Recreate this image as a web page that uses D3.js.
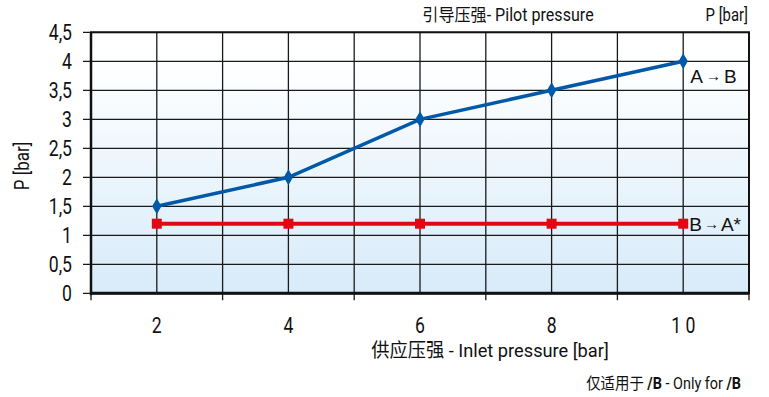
<!DOCTYPE html>
<html>
<head>
<meta charset="utf-8">
<script src="https://cdn.jsdelivr.net/npm/d3@7"></script>
<style>
  body { margin: 0; background: #fff; }
  svg { display: block; font-family: "Roboto", "Noto Sans CJK SC", sans-serif; }
</style>
</head>
<body>
<svg id="chart" width="769" height="397"></svg>
<script>
// data
const inletPressure = [2, 4, 6, 8, 10];
const pilotAB = [1.5, 2, 3, 3.5, 4];
const pilotBA = [1.2, 1.2, 1.2, 1.2, 1.2];
const yTicks = [0, 0.5, 1, 1.5, 2, 2.5, 3, 3.5, 4, 4.5];
const xGrid = [1, 2, 3, 4, 5, 6, 7, 8, 9, 10, 11];
const xMajor = [1, 3, 5, 7, 9, 11];
const xLabels = [2, 4, 6, 8, 10];

const svg = d3.select("#chart");
const plotLeft = 91, plotRight = 749, plotTop = 32.3, plotBottom = 293.3;

const x = d3.scaleLinear().domain([1, 11]).range([plotLeft, plotRight]);
const y = d3.scaleLinear().domain([0, 4.5]).range([plotBottom, plotTop]);
const fmt = (d) => String(d).replace(".", ",");
// condensed look: squeeze text horizontally
const place = (px, py, sx) => "translate(" + px + "," + py + ") scale(" + (sx || 0.84) + ",1)";

// background gradient
const defs = svg.append("defs");
const grad = defs.append("linearGradient").attr("id", "bg").attr("x1", 0).attr("y1", 0).attr("x2", 0).attr("y2", 1);
grad.append("stop").attr("offset", "0%").attr("stop-color", "#ffffff");
grad.append("stop").attr("offset", "15%").attr("stop-color", "#fdfeff");
grad.append("stop").attr("offset", "100%").attr("stop-color", "#d7ebf9");

svg.append("rect")
  .attr("x", plotLeft).attr("y", plotTop)
  .attr("width", plotRight - plotLeft).attr("height", plotBottom - plotTop)
  .attr("fill", "url(#bg)");

// grid
svg.append("g")
  .selectAll("line")
  .data(yTicks)
  .join("line")
  .attr("x1", plotLeft - 8).attr("x2", plotRight)
  .attr("y1", (d) => y(d)).attr("y2", (d) => y(d))
  .attr("stroke", "#1a1a1a")
  .attr("stroke-width", 1.3);

svg.append("g")
  .selectAll("line")
  .data(xGrid)
  .join("line")
  .attr("x1", (d) => x(d)).attr("x2", (d) => x(d))
  .attr("y1", plotTop)
  .attr("y2", (d) => (xMajor.includes(d) ? plotBottom + 7 : plotBottom))
  .attr("stroke", "#1a1a1a")
  .attr("stroke-width", 1.3);

// frame
svg.append("rect")
  .attr("x", plotLeft).attr("y", plotTop)
  .attr("width", plotRight - plotLeft).attr("height", plotBottom - plotTop)
  .attr("fill", "none")
  .attr("stroke", "#111")
  .attr("stroke-width", 2);
svg.append("line")
  .attr("x1", plotLeft).attr("x2", plotRight)
  .attr("y1", plotBottom).attr("y2", plotBottom)
  .attr("stroke", "#111").attr("stroke-width", 3);
svg.append("line")
  .attr("x1", plotLeft).attr("x2", plotLeft)
  .attr("y1", plotTop).attr("y2", plotBottom + 2)
  .attr("stroke", "#111").attr("stroke-width", 2.5);

// y tick labels
svg.append("g")
  .selectAll("text")
  .data(yTicks)
  .join("text")
  .attr("transform", (d) => place(72, y(d) + 7.5, 0.8))
  .attr("text-anchor", "end")
  .attr("font-size", 22)
  .attr("fill", "#111")
  .text(fmt);

// x tick labels
svg.append("g")
  .selectAll("text")
  .data(xLabels)
  .join("text")
  .attr("transform", (d) => place(x(d), 333, 0.8))
  .attr("text-anchor", "middle")
  .attr("font-size", 22)
  .attr("fill", "#111")
  .text((d) => (d === 10 ? "1 0" : d));

// axis titles
svg.append("text")
  .attr("transform", place(490, 357, 0.96))
  .attr("text-anchor", "middle")
  .attr("font-size", 19)
  .attr("fill", "#111")
  .text("供应压强 - Inlet pressure [bar]");

svg.append("text")
  .attr("transform", "translate(29,166) rotate(-90) scale(0.85,1)")
  .attr("text-anchor", "middle")
  .attr("font-size", 20)
  .attr("fill", "#111")
  .text("P [bar]");

svg.append("text")
  .attr("transform", place(508, 21, 0.92))
  .attr("text-anchor", "middle")
  .attr("font-size", 17.5)
  .attr("fill", "#111")
  .text("引导压强- Pilot pressure");

svg.append("text")
  .attr("transform", place(748, 21, 0.85))
  .attr("text-anchor", "end")
  .attr("font-size", 17.5)
  .attr("fill", "#111")
  .text("P [bar]");

const note = svg.append("text")
  .attr("transform", place(741, 389, 0.9))
  .attr("text-anchor", "end")
  .attr("font-size", 16)
  .attr("fill", "#111");
note.append("tspan").text("仅适用于 ");
note.append("tspan").attr("font-weight", "bold").text("/B");
note.append("tspan").text(" - Only for ");
note.append("tspan").attr("font-weight", "bold").text("/B");

// series
const line = d3.line().x((d) => x(d[0])).y((d) => y(d[1]));
const abData = inletPressure.map((p, i) => [p, pilotAB[i]]);
const baData = inletPressure.map((p, i) => [p, pilotBA[i]]);

svg.append("path")
  .datum(baData)
  .attr("d", line)
  .attr("fill", "none")
  .attr("stroke", "#e30613")
  .attr("stroke-width", 4);

svg.append("g")
  .selectAll("rect")
  .data(baData)
  .join("rect")
  .attr("x", (d) => x(d[0]) - 5)
  .attr("y", (d) => y(d[1]) - 5)
  .attr("width", 10).attr("height", 10)
  .attr("fill", "#e30613");

svg.append("path")
  .datum(abData)
  .attr("d", line)
  .attr("fill", "none")
  .attr("stroke", "#0058a8")
  .attr("stroke-width", 3.5);

svg.append("g")
  .selectAll("path")
  .data(abData)
  .join("path")
  .attr("d", d3.symbol(d3.symbolDiamond, 75))
  .attr("transform", (d) => "translate(" + x(d[0]) + "," + y(d[1]) + ")")
  .attr("fill", "#0058a8");

// series labels
const seriesLabel = (px, py, a, b, gap) => {
  const t = svg.append("text")
    .attr("x", px).attr("y", py)
    .attr("font-family", "Liberation Sans, Arial, sans-serif")
    .attr("font-size", 19)
    .attr("fill", "#111");
  t.append("tspan").text(a);
  t.append("tspan").attr("font-size", 15).attr("font-weight", "bold").attr("dx", gap).attr("dy", -2).text("→");
  t.append("tspan").attr("dx", gap).attr("dy", 2).text(b);
};
seriesLabel(x(10) + 7, y(4) + 22, "A", "B", 3);
seriesLabel(x(10) + 6, y(1.2) + 7, "B", "A*", 2);
</script>
</body>
</html>
